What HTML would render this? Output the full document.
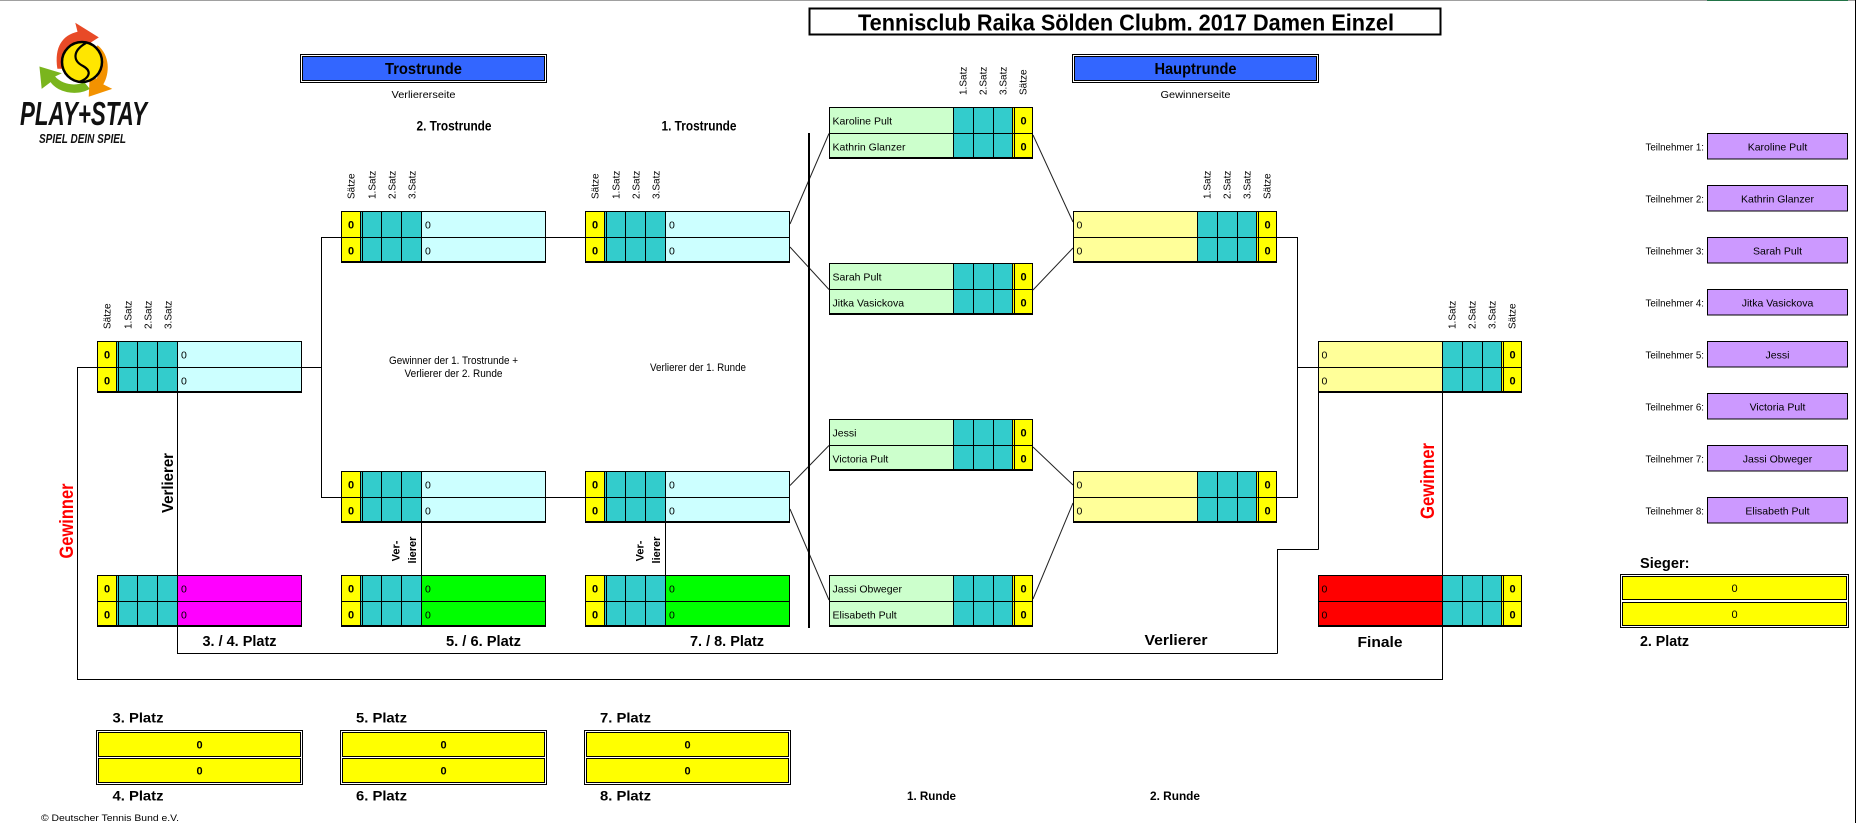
<!DOCTYPE html>
<html><head><meta charset="utf-8">
<style>
html,body{margin:0;padding:0;background:#fff;}
svg{display:block;}
text{font-family:"Liberation Sans",Arial,sans-serif;}
.z{font-size:11px;font-weight:bold;text-anchor:middle;}
.n{font-size:10.5px;}
.h text{font-size:10px;}
.b{font-weight:bold;}
</style></head><body>
<svg width="1856" height="823" viewBox="0 0 1856 823" xmlns="http://www.w3.org/2000/svg">
<rect width="1856" height="823" fill="#fff"/>
<rect x="0" y="0" width="1856" height="1" fill="#A0A0A0"/>
<rect x="1707" y="0" width="141" height="1" fill="#217346"/>
<rect x="1855" y="0" width="1" height="823" fill="#000"/>

<!-- Logo -->
<g>
<g transform="translate(82,62) scale(1.12) translate(-82,-62)">
<path d="M60 68 C57 48 65 38 78 35 L76 27 L97 40 L80 51 L79 44 C70 46 66 55 67 68 Z" fill="#E84A27"/>
<path d="M96 47 C107 56 107 72 101 82 L109 86 L88 93 L89 72 L95 77 C99 70 98 60 90 54 Z" fill="#F39200"/>
<path d="M89 86 C77 93 60 89 54 80 L46 86 L44 66 L64 72 L58 75 C64 82 76 84 84 80 Z" fill="#7AB51D"/>
</g>
<circle cx="82" cy="62" r="20" fill="#FFE600" stroke="#000" stroke-width="2.5"/>
<path d="M86 43 C72 51 73 61 83 66 C92 71 90 78 79 82" fill="none" stroke="#000" stroke-width="2.2"/>
<text x="20" y="125" font-size="33" font-weight="900" font-style="italic" textLength="127" lengthAdjust="spacingAndGlyphs" fill="#111">PLAY+STAY</text>
<text x="39" y="143" font-size="12.5" font-weight="bold" font-style="italic" textLength="87" lengthAdjust="spacingAndGlyphs" fill="#111">SPIEL DEIN SPIEL</text>
</g>

<!-- Title -->
<rect x="809.5" y="8.5" width="631" height="26" fill="#fff" stroke="#000" stroke-width="2"/>
<text x="858" y="30.5" font-size="23" font-weight="bold" textLength="536" lengthAdjust="spacingAndGlyphs">Tennisclub Raika Sölden Clubm. 2017 Damen Einzel</text>

<!-- Section headers -->
<rect x="300.5" y="54.5" width="246" height="28" fill="#fff" stroke="#000"/>
<rect x="302.5" y="56.5" width="242" height="24" fill="#3366FF" stroke="#000"/>
<text x="423.5" y="74" text-anchor="middle" font-size="16" font-weight="bold" textLength="77" lengthAdjust="spacingAndGlyphs">Trostrunde</text>
<text x="423.5" y="98" text-anchor="middle" font-size="10.5" textLength="64" lengthAdjust="spacingAndGlyphs">Verliererseite</text>

<rect x="1072.5" y="54.5" width="246" height="28" fill="#fff" stroke="#000"/>
<rect x="1074.5" y="56.5" width="242" height="24" fill="#3366FF" stroke="#000"/>
<text x="1195.5" y="74" text-anchor="middle" font-size="16" font-weight="bold" textLength="82" lengthAdjust="spacingAndGlyphs">Hauptrunde</text>
<text x="1195.5" y="98" text-anchor="middle" font-size="10.5" textLength="70" lengthAdjust="spacingAndGlyphs">Gewinnerseite</text>

<text x="454" y="130.5" text-anchor="middle" font-size="14" font-weight="bold" textLength="75" lengthAdjust="spacingAndGlyphs">2. Trostrunde</text>
<text x="699" y="130.5" text-anchor="middle" font-size="14" font-weight="bold" textLength="75" lengthAdjust="spacingAndGlyphs">1. Trostrunde</text>

<text x="453.5" y="364" text-anchor="middle" font-size="11" textLength="129" lengthAdjust="spacingAndGlyphs">Gewinner der 1. Trostrunde +</text>
<text x="453.5" y="377" text-anchor="middle" font-size="11" textLength="98" lengthAdjust="spacingAndGlyphs">Verlierer der 2. Runde</text>
<text x="698" y="371" text-anchor="middle" font-size="11" textLength="96" lengthAdjust="spacingAndGlyphs">Verlierer der 1. Runde</text>

<!-- Connectors -->
<g stroke="#000" stroke-width="1" fill="none">
<path d="M321 237.5H341 M321.5 237.5V497.5 M321 497.5H341 M302 367.5H321.5"/>
<path d="M546 237.5H585 M546 497.5H585"/>
<path d="M421.5 523V575 M665.5 523V575"/>
<path d="M177.5 393V653.5 M177 653.5H1277.5 M1277.5 549.5V653.5 M1277 549.5H1318.5 M1318.5 393V549.5"/>
<path d="M97 367.5H77.5V679.5H1442.5V627 M1442.5 393V575"/>
<path d="M1277 237.5H1297.5V497.5H1277 M1297.5 367.5H1318"/>
</g>
<g stroke="#222" stroke-width="1" fill="none">
<path d="M790 224L829 133.5 M790 247L829 289.5 M790 485.5L829 445.5 M790 509L829 600"/>
<path d="M1033 135L1073 222 M1033 290L1073 248 M1033 447L1073 485 M1033 599L1073 503"/>
</g>
<rect x="808" y="133" width="2" height="495" fill="#000"/>

<!-- Left-type boxes -->
<g transform="translate(97,341)">
<rect width="20" height="52" fill="#FF0"/><rect x="20" width="61" height="52" fill="#3CC"/><rect x="81" width="124" height="52" fill="#CCFFFF"/>
<path d="M19.5 0V52M21.5 0V52M40.5 0V52M60.5 0V52M80.5 0V52M0 26.5H205M0.5 0V52M204.5 0V52M0 0.5H205" stroke="#000" fill="none"/>
<rect y="50" width="205" height="2"/>
<text class="z" x="10" y="17.5">0</text><text class="z" x="10" y="43.5">0</text>
<text class="n" x="84" y="17.5">0</text><text class="n" x="84" y="43.5">0</text>
</g>
<g transform="translate(97,575)">
<rect width="20" height="52" fill="#FF0"/><rect x="20" width="61" height="52" fill="#3CC"/><rect x="81" width="124" height="52" fill="#FF00FF"/>
<path d="M19.5 0V52M21.5 0V52M40.5 0V52M60.5 0V52M80.5 0V52M0 26.5H205M0.5 0V52M204.5 0V52M0 0.5H205" stroke="#000" fill="none"/>
<rect y="50" width="205" height="2"/>
<text class="z" x="10" y="17.5">0</text><text class="z" x="10" y="43.5">0</text>
<text class="n" x="84" y="17.5">0</text><text class="n" x="84" y="43.5">0</text>
</g>
<g transform="translate(341,211)">
<rect width="20" height="52" fill="#FF0"/><rect x="20" width="61" height="52" fill="#3CC"/><rect x="81" width="124" height="52" fill="#CCFFFF"/>
<path d="M19.5 0V52M21.5 0V52M40.5 0V52M60.5 0V52M80.5 0V52M0 26.5H205M0.5 0V52M204.5 0V52M0 0.5H205" stroke="#000" fill="none"/>
<rect y="50" width="205" height="2"/>
<text class="z" x="10" y="17.5">0</text><text class="z" x="10" y="43.5">0</text>
<text class="n" x="84" y="17.5">0</text><text class="n" x="84" y="43.5">0</text>
</g>
<g transform="translate(341,471)">
<rect width="20" height="52" fill="#FF0"/><rect x="20" width="61" height="52" fill="#3CC"/><rect x="81" width="124" height="52" fill="#CCFFFF"/>
<path d="M19.5 0V52M21.5 0V52M40.5 0V52M60.5 0V52M80.5 0V52M0 26.5H205M0.5 0V52M204.5 0V52M0 0.5H205" stroke="#000" fill="none"/>
<rect y="50" width="205" height="2"/>
<text class="z" x="10" y="17.5">0</text><text class="z" x="10" y="43.5">0</text>
<text class="n" x="84" y="17.5">0</text><text class="n" x="84" y="43.5">0</text>
</g>
<g transform="translate(341,575)">
<rect width="20" height="52" fill="#FF0"/><rect x="20" width="61" height="52" fill="#3CC"/><rect x="81" width="124" height="52" fill="#00FF00"/>
<path d="M19.5 0V52M21.5 0V52M40.5 0V52M60.5 0V52M80.5 0V52M0 26.5H205M0.5 0V52M204.5 0V52M0 0.5H205" stroke="#000" fill="none"/>
<rect y="50" width="205" height="2"/>
<text class="z" x="10" y="17.5">0</text><text class="z" x="10" y="43.5">0</text>
<text class="n" x="84" y="17.5">0</text><text class="n" x="84" y="43.5">0</text>
</g>
<g transform="translate(585,211)">
<rect width="20" height="52" fill="#FF0"/><rect x="20" width="61" height="52" fill="#3CC"/><rect x="81" width="124" height="52" fill="#CCFFFF"/>
<path d="M19.5 0V52M21.5 0V52M40.5 0V52M60.5 0V52M80.5 0V52M0 26.5H205M0.5 0V52M204.5 0V52M0 0.5H205" stroke="#000" fill="none"/>
<rect y="50" width="205" height="2"/>
<text class="z" x="10" y="17.5">0</text><text class="z" x="10" y="43.5">0</text>
<text class="n" x="84" y="17.5">0</text><text class="n" x="84" y="43.5">0</text>
</g>
<g transform="translate(585,471)">
<rect width="20" height="52" fill="#FF0"/><rect x="20" width="61" height="52" fill="#3CC"/><rect x="81" width="124" height="52" fill="#CCFFFF"/>
<path d="M19.5 0V52M21.5 0V52M40.5 0V52M60.5 0V52M80.5 0V52M0 26.5H205M0.5 0V52M204.5 0V52M0 0.5H205" stroke="#000" fill="none"/>
<rect y="50" width="205" height="2"/>
<text class="z" x="10" y="17.5">0</text><text class="z" x="10" y="43.5">0</text>
<text class="n" x="84" y="17.5">0</text><text class="n" x="84" y="43.5">0</text>
</g>
<g transform="translate(585,575)">
<rect width="20" height="52" fill="#FF0"/><rect x="20" width="61" height="52" fill="#3CC"/><rect x="81" width="124" height="52" fill="#00FF00"/>
<path d="M19.5 0V52M21.5 0V52M40.5 0V52M60.5 0V52M80.5 0V52M0 26.5H205M0.5 0V52M204.5 0V52M0 0.5H205" stroke="#000" fill="none"/>
<rect y="50" width="205" height="2"/>
<text class="z" x="10" y="17.5">0</text><text class="z" x="10" y="43.5">0</text>
<text class="n" x="84" y="17.5">0</text><text class="n" x="84" y="43.5">0</text>
</g>

<!-- Right-type boxes -->
<g transform="translate(829,107)">
<rect width="124" height="52" fill="#CCFFCC"/><rect x="124" width="60" height="52" fill="#3CC"/><rect x="184" width="20" height="52" fill="#FF0"/>
<path d="M124.5 0V52M144.5 0V52M164.5 0V52M183.5 0V52M185.5 0V52M0 26.5H204M0.5 0V52M203.5 0V52M0 0.5H204" stroke="#000" fill="none"/>
<rect y="50" width="204" height="2"/>
<text class="n" x="3.5" y="17.5">Karoline Pult</text><text class="n" x="3.5" y="43.5">Kathrin Glanzer</text>
<text class="z" x="194.5" y="17.5">0</text><text class="z" x="194.5" y="43.5">0</text>
</g>
<g transform="translate(829,263)">
<rect width="124" height="52" fill="#CCFFCC"/><rect x="124" width="60" height="52" fill="#3CC"/><rect x="184" width="20" height="52" fill="#FF0"/>
<path d="M124.5 0V52M144.5 0V52M164.5 0V52M183.5 0V52M185.5 0V52M0 26.5H204M0.5 0V52M203.5 0V52M0 0.5H204" stroke="#000" fill="none"/>
<rect y="50" width="204" height="2"/>
<text class="n" x="3.5" y="17.5">Sarah Pult</text><text class="n" x="3.5" y="43.5">Jitka Vasickova</text>
<text class="z" x="194.5" y="17.5">0</text><text class="z" x="194.5" y="43.5">0</text>
</g>
<g transform="translate(829,419)">
<rect width="124" height="52" fill="#CCFFCC"/><rect x="124" width="60" height="52" fill="#3CC"/><rect x="184" width="20" height="52" fill="#FF0"/>
<path d="M124.5 0V52M144.5 0V52M164.5 0V52M183.5 0V52M185.5 0V52M0 26.5H204M0.5 0V52M203.5 0V52M0 0.5H204" stroke="#000" fill="none"/>
<rect y="50" width="204" height="2"/>
<text class="n" x="3.5" y="17.5">Jessi</text><text class="n" x="3.5" y="43.5">Victoria Pult</text>
<text class="z" x="194.5" y="17.5">0</text><text class="z" x="194.5" y="43.5">0</text>
</g>
<g transform="translate(829,575)">
<rect width="124" height="52" fill="#CCFFCC"/><rect x="124" width="60" height="52" fill="#3CC"/><rect x="184" width="20" height="52" fill="#FF0"/>
<path d="M124.5 0V52M144.5 0V52M164.5 0V52M183.5 0V52M185.5 0V52M0 26.5H204M0.5 0V52M203.5 0V52M0 0.5H204" stroke="#000" fill="none"/>
<rect y="50" width="204" height="2"/>
<text class="n" x="3.5" y="17.5">Jassi Obweger</text><text class="n" x="3.5" y="43.5">Elisabeth Pult</text>
<text class="z" x="194.5" y="17.5">0</text><text class="z" x="194.5" y="43.5">0</text>
</g>
<g transform="translate(1073,211)">
<rect width="124" height="52" fill="#FFFF99"/><rect x="124" width="60" height="52" fill="#3CC"/><rect x="184" width="20" height="52" fill="#FF0"/>
<path d="M124.5 0V52M144.5 0V52M164.5 0V52M183.5 0V52M185.5 0V52M0 26.5H204M0.5 0V52M203.5 0V52M0 0.5H204" stroke="#000" fill="none"/>
<rect y="50" width="204" height="2"/>
<text class="n" x="3.5" y="17.5">0</text><text class="n" x="3.5" y="43.5">0</text>
<text class="z" x="194.5" y="17.5">0</text><text class="z" x="194.5" y="43.5">0</text>
</g>
<g transform="translate(1073,471)">
<rect width="124" height="52" fill="#FFFF99"/><rect x="124" width="60" height="52" fill="#3CC"/><rect x="184" width="20" height="52" fill="#FF0"/>
<path d="M124.5 0V52M144.5 0V52M164.5 0V52M183.5 0V52M185.5 0V52M0 26.5H204M0.5 0V52M203.5 0V52M0 0.5H204" stroke="#000" fill="none"/>
<rect y="50" width="204" height="2"/>
<text class="n" x="3.5" y="17.5">0</text><text class="n" x="3.5" y="43.5">0</text>
<text class="z" x="194.5" y="17.5">0</text><text class="z" x="194.5" y="43.5">0</text>
</g>
<g transform="translate(1318,341)">
<rect width="124" height="52" fill="#FFFF99"/><rect x="124" width="60" height="52" fill="#3CC"/><rect x="184" width="20" height="52" fill="#FF0"/>
<path d="M124.5 0V52M144.5 0V52M164.5 0V52M183.5 0V52M185.5 0V52M0 26.5H204M0.5 0V52M203.5 0V52M0 0.5H204" stroke="#000" fill="none"/>
<rect y="50" width="204" height="2"/>
<text class="n" x="3.5" y="17.5">0</text><text class="n" x="3.5" y="43.5">0</text>
<text class="z" x="194.5" y="17.5">0</text><text class="z" x="194.5" y="43.5">0</text>
</g>
<g transform="translate(1318,575)">
<rect width="124" height="52" fill="#FF0000"/><rect x="124" width="60" height="52" fill="#3CC"/><rect x="184" width="20" height="52" fill="#FF0"/>
<path d="M124.5 0V52M144.5 0V52M164.5 0V52M183.5 0V52M185.5 0V52M0 26.5H204M0.5 0V52M203.5 0V52M0 0.5H204" stroke="#000" fill="none"/>
<rect y="50" width="204" height="2"/>
<text class="n" x="3.5" y="17.5">0</text><text class="n" x="3.5" y="43.5">0</text>
<text class="z" x="194.5" y="17.5">0</text><text class="z" x="194.5" y="43.5">0</text>
</g>

<!-- Rotated column headers -->
<g class="h">
<text transform="translate(110.5,329) rotate(-90)">Sätze</text>
<text transform="translate(131.5,329) rotate(-90)">1.Satz</text>
<text transform="translate(151.5,329) rotate(-90)">2.Satz</text>
<text transform="translate(171.5,329) rotate(-90)">3.Satz</text>

<text transform="translate(354.5,199) rotate(-90)">Sätze</text>
<text transform="translate(375.5,199) rotate(-90)">1.Satz</text>
<text transform="translate(395.5,199) rotate(-90)">2.Satz</text>
<text transform="translate(415.5,199) rotate(-90)">3.Satz</text>

<text transform="translate(598.5,199) rotate(-90)">Sätze</text>
<text transform="translate(619.5,199) rotate(-90)">1.Satz</text>
<text transform="translate(639.5,199) rotate(-90)">2.Satz</text>
<text transform="translate(659.5,199) rotate(-90)">3.Satz</text>

<text transform="translate(966.5,95) rotate(-90)">1.Satz</text>
<text transform="translate(986.5,95) rotate(-90)">2.Satz</text>
<text transform="translate(1006.5,95) rotate(-90)">3.Satz</text>
<text transform="translate(1026.5,95) rotate(-90)">Sätze</text>

<text transform="translate(1210.5,199) rotate(-90)">1.Satz</text>
<text transform="translate(1230.5,199) rotate(-90)">2.Satz</text>
<text transform="translate(1250.5,199) rotate(-90)">3.Satz</text>
<text transform="translate(1270.5,199) rotate(-90)">Sätze</text>

<text transform="translate(1455.5,329) rotate(-90)">1.Satz</text>
<text transform="translate(1475.5,329) rotate(-90)">2.Satz</text>
<text transform="translate(1495.5,329) rotate(-90)">3.Satz</text>
<text transform="translate(1515.5,329) rotate(-90)">Sätze</text>
</g>

<!-- Rotated labels -->
<text transform="translate(73,521) rotate(-90)" text-anchor="middle" font-size="19" font-weight="bold" fill="#FF0000" textLength="75" lengthAdjust="spacingAndGlyphs">Gewinner</text>
<text transform="translate(1434,481) rotate(-90)" text-anchor="middle" font-size="19" font-weight="bold" fill="#FF0000" textLength="76" lengthAdjust="spacingAndGlyphs">Gewinner</text>
<text transform="translate(173,483) rotate(-90)" text-anchor="middle" font-size="16" font-weight="bold" textLength="60" lengthAdjust="spacingAndGlyphs">Verlierer</text>
<text transform="translate(399.5,551) rotate(-90)" text-anchor="middle" font-size="11" font-weight="bold">Ver-</text>
<text transform="translate(416,550) rotate(-90)" text-anchor="middle" font-size="11" font-weight="bold">lierer</text>
<text transform="translate(643.5,551) rotate(-90)" text-anchor="middle" font-size="11" font-weight="bold">Ver-</text>
<text transform="translate(660,550) rotate(-90)" text-anchor="middle" font-size="11" font-weight="bold">lierer</text>

<!-- Bottom labels of bracket -->
<g font-size="15" font-weight="bold">
<text x="202.5" y="646" textLength="74" lengthAdjust="spacingAndGlyphs">3. / 4. Platz</text>
<text x="446" y="646" textLength="75" lengthAdjust="spacingAndGlyphs">5. / 6. Platz</text>
<text x="690" y="646" textLength="74" lengthAdjust="spacingAndGlyphs">7. / 8. Platz</text>
<text x="1144.5" y="645" textLength="63" lengthAdjust="spacingAndGlyphs">Verlierer</text>
<text x="1357.5" y="647" textLength="45" lengthAdjust="spacingAndGlyphs">Finale</text>
<text x="1640" y="568" textLength="49.5" lengthAdjust="spacingAndGlyphs">Sieger:</text>
<text x="1640" y="646" textLength="49" lengthAdjust="spacingAndGlyphs">2. Platz</text>
</g>

<!-- Teilnehmer -->
<g font-size="10.5">
<text x="1704" y="150.5" text-anchor="end" textLength="58.5" lengthAdjust="spacingAndGlyphs">Teilnehmer 1:</text>
<text x="1704" y="202.5" text-anchor="end" textLength="58.5" lengthAdjust="spacingAndGlyphs">Teilnehmer 2:</text>
<text x="1704" y="254.5" text-anchor="end" textLength="58.5" lengthAdjust="spacingAndGlyphs">Teilnehmer 3:</text>
<text x="1704" y="306.5" text-anchor="end" textLength="58.5" lengthAdjust="spacingAndGlyphs">Teilnehmer 4:</text>
<text x="1704" y="358.5" text-anchor="end" textLength="58.5" lengthAdjust="spacingAndGlyphs">Teilnehmer 5:</text>
<text x="1704" y="410.5" text-anchor="end" textLength="58.5" lengthAdjust="spacingAndGlyphs">Teilnehmer 6:</text>
<text x="1704" y="462.5" text-anchor="end" textLength="58.5" lengthAdjust="spacingAndGlyphs">Teilnehmer 7:</text>
<text x="1704" y="514.5" text-anchor="end" textLength="58.5" lengthAdjust="spacingAndGlyphs">Teilnehmer 8:</text>
</g>
<g fill="#CC99FF" stroke="#000">
<rect x="1707.5" y="133.5" width="140" height="25.5"/>
<rect x="1707.5" y="185.5" width="140" height="25.5"/>
<rect x="1707.5" y="237.5" width="140" height="25.5"/>
<rect x="1707.5" y="289.5" width="140" height="25.5"/>
<rect x="1707.5" y="341.5" width="140" height="25.5"/>
<rect x="1707.5" y="393.5" width="140" height="25.5"/>
<rect x="1707.5" y="445.5" width="140" height="25.5"/>
<rect x="1707.5" y="497.5" width="140" height="25.5"/>
</g>
<g font-size="10.5" text-anchor="middle">
<text x="1777.5" y="150.5">Karoline Pult</text>
<text x="1777.5" y="202.5">Kathrin Glanzer</text>
<text x="1777.5" y="254.5">Sarah Pult</text>
<text x="1777.5" y="306.5">Jitka Vasickova</text>
<text x="1777.5" y="358.5">Jessi</text>
<text x="1777.5" y="410.5">Victoria Pult</text>
<text x="1777.5" y="462.5">Jassi Obweger</text>
<text x="1777.5" y="514.5">Elisabeth Pult</text>
</g>

<!-- Sieger box -->
<rect x="1620.5" y="574.5" width="228" height="53" fill="#fff" stroke="#000"/>
<rect x="1622.5" y="576.5" width="224" height="23" fill="#FFFF00" stroke="#000"/>
<rect x="1622.5" y="602.5" width="224" height="23" fill="#FFFF00" stroke="#000"/>
<text x="1734.5" y="592" text-anchor="middle" font-size="11">0</text>
<text x="1734.5" y="618" text-anchor="middle" font-size="11">0</text>

<!-- Placement boxes bottom -->
<g>
<rect x="96.5" y="730.5" width="206" height="54" fill="#fff" stroke="#000"/>
<rect x="98.5" y="732.5" width="202" height="24" fill="#FFFF00" stroke="#000"/>
<rect x="98.5" y="758.5" width="202" height="24" fill="#FFFF00" stroke="#000"/>
<text class="z" x="199.5" y="748.5">0</text><text class="z" x="199.5" y="774.5">0</text>

<rect x="340.5" y="730.5" width="206" height="54" fill="#fff" stroke="#000"/>
<rect x="342.5" y="732.5" width="202" height="24" fill="#FFFF00" stroke="#000"/>
<rect x="342.5" y="758.5" width="202" height="24" fill="#FFFF00" stroke="#000"/>
<text class="z" x="443.5" y="748.5">0</text><text class="z" x="443.5" y="774.5">0</text>

<rect x="584.5" y="730.5" width="206" height="54" fill="#fff" stroke="#000"/>
<rect x="586.5" y="732.5" width="202" height="24" fill="#FFFF00" stroke="#000"/>
<rect x="586.5" y="758.5" width="202" height="24" fill="#FFFF00" stroke="#000"/>
<text class="z" x="687.5" y="748.5">0</text><text class="z" x="687.5" y="774.5">0</text>
</g>
<g font-size="14" font-weight="bold">
<text x="112.5" y="722.5" textLength="51" lengthAdjust="spacingAndGlyphs">3. Platz</text>
<text x="112.5" y="800.5" textLength="51" lengthAdjust="spacingAndGlyphs">4. Platz</text>
<text x="356" y="722.5" textLength="51" lengthAdjust="spacingAndGlyphs">5. Platz</text>
<text x="356" y="800.5" textLength="51" lengthAdjust="spacingAndGlyphs">6. Platz</text>
<text x="600" y="722.5" textLength="51" lengthAdjust="spacingAndGlyphs">7. Platz</text>
<text x="600" y="800.5" textLength="51" lengthAdjust="spacingAndGlyphs">8. Platz</text>
</g>
<g font-size="12" font-weight="bold">
<text x="907" y="800" textLength="49" lengthAdjust="spacingAndGlyphs">1. Runde</text>
<text x="1150" y="800" textLength="50" lengthAdjust="spacingAndGlyphs">2. Runde</text>
</g>
<text x="41" y="821" font-size="9.5" textLength="138" lengthAdjust="spacingAndGlyphs">© Deutscher Tennis Bund e.V.</text>
</svg>
</body></html>
